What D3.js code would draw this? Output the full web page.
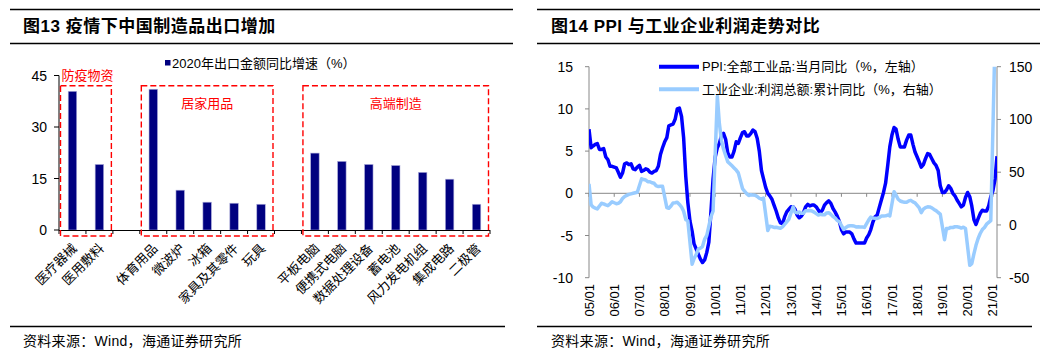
<!DOCTYPE html>
<html><head><meta charset="utf-8">
<script src="https://cdn.jsdelivr.net/npm/d3@7"></script>
<style>
body{margin:0;background:#fff}
svg{display:block}
text{font-family:"Liberation Sans","Noto Sans CJK SC",sans-serif}
</style>
</head><body>
<svg id="c" width="1060" height="354"></svg>
<script>
// ---------- Left chart data ----------
const barTitle = "图13 疫情下中国制造品出口增加";
const barLegend = "2020年出口金额同比增速（%）";
const barCategories = ["医疗器械","医用敷料","","体育用品","微波炉","冰箱","家具及其零件","玩具","","平板电脑","便携式电脑","数据处理设备","蓄电池","风力发电机组","集成电路","二极管"];
const barValues = [40.4,19.1,null,41.0,11.6,8.1,7.8,7.5,null,22.4,20.0,19.1,18.8,16.8,14.8,7.5];
const barTicks = [0,15,30,45];
const groupNames = ["防疫物资","居家用品","高端制造"];
const groupFirst = ["医疗器械","体育用品","平板电脑"];
const groupLast = ["医用敷料","玩具","二极管"];

// ---------- Right chart data ----------
const lineTitle = "图14 PPI 与工业企业利润走势对比";
const ppiName = "PPI:全部工业品:当月同比（%，左轴）";
const profitName = "工业企业:利润总额:累计同比（%，右轴）";
const startYear = 2005; // first month: 2005-01
const ppi = [
 7.6,5.4,5.6,5.8,5.9,5.2,5.2,5.3,4.3,4.0,3.2,3.2,
 3.1,3.0,2.5,1.9,2.4,3.5,3.6,3.4,3.5,2.9,2.8,3.1,
 3.3,2.6,2.7,2.9,2.8,2.5,2.4,2.6,2.7,3.2,4.6,5.4,
 6.1,6.6,8.0,8.1,8.2,8.8,10.0,10.1,9.1,6.6,2.0,-1.1,
 -3.3,-4.5,-6.0,-6.6,-7.2,-7.8,-8.2,-7.9,-7.0,-5.8,-2.1,1.7,
 4.3,5.4,5.9,6.8,7.1,6.4,4.8,4.3,4.3,5.0,6.1,5.9,
 6.6,7.2,7.3,6.8,6.8,7.1,7.5,7.3,6.5,5.0,2.7,1.7,
 0.7,0.0,-0.3,-0.7,-1.4,-2.1,-2.9,-3.5,-3.6,-2.8,-2.2,-1.9,
 -1.6,-1.6,-1.9,-2.6,-2.9,-2.7,-2.3,-1.6,-1.3,-1.5,-1.4,-1.4,
 -1.6,-2.0,-2.3,-2.0,-1.4,-1.1,-0.9,-1.2,-1.8,-2.2,-2.7,-3.3,
 -4.3,-4.8,-4.6,-4.6,-4.6,-4.8,-5.4,-5.9,-5.9,-5.9,-5.9,-5.9,
 -5.3,-4.9,-4.3,-3.4,-2.8,-2.6,-1.7,-0.8,0.1,1.2,3.3,5.5,
 6.9,7.8,7.6,6.4,5.5,5.5,5.5,6.3,6.9,6.9,5.8,4.9,
 4.3,3.7,3.1,3.4,4.1,4.7,4.6,4.1,3.6,3.3,2.7,0.9,
 0.1,0.1,0.4,0.9,0.6,0.0,-0.3,-0.8,-1.2,-1.6,-1.4,-0.5,
 0.1,-0.4,-1.5,-3.1,-3.7,-3.0,-2.4,-2.0,-2.1,-2.1,-1.5,-0.4,
 0.3,1.7,4.4
];
const profit = [
 39,19,17,16,15.2,18,20.5,20,19,18.3,20,22,
 null,20.1,20.5,22,25,27,28,29,29.5,30,30.5,31,
 null,43.8,43,42.6,41,41,40,39.5,37,36.5,36.7,36.7,
 null,16.5,15.8,18,20.9,21,21.5,19.4,17,13,5,4,
 null,-37.3,-32,-28,-22.9,-22,-20.5,-13.5,-10,-1,7.8,13,
 null,122,97,80,72,66,60,58,56,54,52,49.4,
 null,34.3,32,29.7,27.9,28.7,28.3,28.2,27.0,25.3,24.4,25.4,
 null,-5.2,-1.3,-1.6,-2.4,-2.2,-2.7,-3.1,-1.8,0.5,3.0,5.3,
 null,17.2,12.1,11.4,12.3,11.1,11.1,13.5,13.5,13.7,13.2,12.2,
 null,9.4,10.1,9.6,9.6,11.4,11.6,10.0,7.9,6.7,4.2,3.3,
 null,-4.2,-2.7,-1.3,-0.8,-0.7,-1.0,-1.9,-1.7,-2.0,-1.9,-2.3,
 null,4.8,7.4,6.5,6.4,6.2,6.9,8.4,8.4,8.6,9.4,8.5,
 null,31.5,28.3,24.4,22.7,22.0,21.6,21.6,22.8,23.3,21.9,21.0,
 null,16.1,11.6,15.0,16.5,17.2,17.1,16.2,14.7,13.6,11.8,10.3,
 null,-14.0,-3.3,-3.4,-2.3,-2.4,-1.7,-1.7,-2.1,-2.9,-2.1,-3.3,
 null,-38.3,-36.7,-27.4,-19.3,-12.8,-8.1,-4.4,-2.4,0.7,2.4,4.1,
 null,178.9
];
const yearLabels = ["05/01","06/01","07/01","08/01","09/01","10/01","11/01","12/01","13/01","14/01","15/01","16/01","17/01","18/01","19/01","20/01","21/01"];
const leftTicks = [15,10,5,0,-5,-10];
const rightTicks = [150,100,50,0,-50];
const source = "资料来源：Wind，海通证券研究所";

const svg = d3.select("#c");
svg.append("rect").attr("width",1060).attr("height",354).attr("fill","#fff");

// ---------- frames (rules, titles, sources) ----------
[[10,513,barTitle,23],[537,1040,lineTitle,551]].forEach(([x0,x1,t,tx])=>{
  svg.append("line").attr("x1",x0).attr("x2",x1).attr("y1",9.5).attr("y2",9.5).attr("stroke","#000").attr("stroke-width",1.6);
  svg.append("line").attr("x1",x0).attr("x2",x1).attr("y1",43.5).attr("y2",43.5).attr("stroke","#000").attr("stroke-width",1.6);
  svg.append("line").attr("x1",x0).attr("x2",x1-8).attr("y1",326.5).attr("y2",326.5).attr("stroke","#000").attr("stroke-width",1.6);
  svg.append("text").attr("x",tx).attr("y",32).attr("font-size",17).attr("font-weight","bold").attr("letter-spacing",0.5).attr("fill","#000").text(t);
  svg.append("text").attr("x",tx).attr("y",346).attr("font-size",14).attr("letter-spacing",0.3).attr("fill","#000").text(source);
});

// ---------- Left bar chart ----------
const bx = d3.scaleBand().domain(d3.range(barCategories.length)).range([59,490]);
const by = d3.scaleLinear().domain([0,45]).range([230,75.5]);
const L = svg.append("g");

// legend
L.append("rect").attr("x",165).attr("y",60).attr("width",5.5).attr("height",5.5).attr("fill","#000080");
L.append("text").attr("x",172).attr("y",67.5).attr("font-size",13).attr("fill","#000").text(barLegend);

// y axis
L.append("line").attr("x1",59).attr("x2",59).attr("y1",by(45)).attr("y2",by(0)).attr("stroke","#000");
barTicks.forEach(v=>{
  L.append("line").attr("x1",54).attr("x2",59).attr("y1",by(v)).attr("y2",by(v)).attr("stroke","#000");
  L.append("text").attr("x",47).attr("y",by(v)).attr("dy","0.36em").attr("text-anchor","end").attr("font-size",14).attr("fill","#000").text(v);
});
// bars
const bw = 8.5;
barValues.forEach((v,i)=>{
  if(v==null) return;
  L.append("rect").attr("x",bx(i)+bx.bandwidth()/2-bw/2).attr("y",by(v)).attr("width",bw).attr("height",by(0)-by(v))
   .attr("fill","#000080").attr("stroke","#b0b0dc").attr("stroke-width",0.6);
});
// x axis
L.append("line").attr("x1",59).attr("x2",490).attr("y1",by(0)+0.5).attr("y2",by(0)+0.5).attr("stroke","#000");
d3.range(barCategories.length+1).forEach(k=>{
  const x = 59 + k*bx.step();
  L.append("line").attr("x1",x).attr("x2",x).attr("y1",by(0)).attr("y2",by(0)+4).attr("stroke","#000");
});
barCategories.forEach((c,i)=>{
  if(!c) return;
  const cx = bx(i)+bx.bandwidth()/2;
  L.append("text").attr("transform",`translate(${cx+2},246) rotate(-45)`).attr("text-anchor","end").attr("dy","0.35em")
   .attr("font-size",13).attr("fill","#000").text(c);
});
// group boxes
groupNames.forEach((g,k)=>{
  const i0 = barCategories.indexOf(groupFirst[k]), i1 = barCategories.indexOf(groupLast[k]);
  const x0 = bx(i0)+1.5, x1 = bx(i1)+bx.step()-1.5;
  L.append("rect").attr("x",x0).attr("y",by(42)).attr("width",x1-x0).attr("height",by(0)+6-by(42))
   .attr("fill","none").attr("stroke","#ff0000").attr("stroke-width",1.4).attr("stroke-dasharray","6,3");
  const tx = k===0 ? x0+1 : (x0+x1)/2;
  const ty = k===0 ? 75.5 : 103;
  L.append("text").attr("x",tx).attr("y",ty).attr("dy","0.36em").attr("text-anchor",k===0?"start":"middle")
   .attr("font-size",13).attr("fill","#ff0000").text(g);
});

// ---------- Right line chart ----------
const month = i => new Date(startYear, i, 1);
const lx = d3.scaleTime().domain([month(0), month(ppi.length-1)]).range([589,997]);
const ly = d3.scaleLinear().domain([-10,15]).range([277.7,66.7]);
const ry = d3.scaleLinear().domain([-50,150]).range([277.7,66.7]);
const R = svg.append("g");

svg.append("defs").append("clipPath").attr("id","plot").append("rect")
  .attr("x",589).attr("y",ly(15)).attr("width",408).attr("height",ly(-10)-ly(15));

// axes
R.append("line").attr("x1",589).attr("x2",589).attr("y1",ly(15)).attr("y2",ly(-10)).attr("stroke","#888");
leftTicks.forEach(v=>{
  R.append("line").attr("x1",585).attr("x2",589).attr("y1",ly(v)).attr("y2",ly(v)).attr("stroke","#888");
  R.append("text").attr("x",573).attr("y",ly(v)).attr("dy","0.36em").attr("text-anchor","end").attr("font-size",14).attr("fill","#000").text(v);
});
R.append("line").attr("x1",997).attr("x2",997).attr("y1",ry(150)).attr("y2",ry(-50)).attr("stroke","#888");
rightTicks.forEach(v=>{
  R.append("line").attr("x1",997).attr("x2",1001).attr("y1",ry(v)).attr("y2",ry(v)).attr("stroke","#888");
  R.append("text").attr("x",1009).attr("y",ry(v)).attr("dy","0.36em").attr("text-anchor","start").attr("font-size",14).attr("fill","#000").text(v);
});
R.append("line").attr("x1",589).attr("x2",997).attr("y1",ly(0)).attr("y2",ly(0)).attr("stroke","#888");
yearLabels.forEach((lab,k)=>{
  const x = lx(new Date(startYear+k,0,1));
  R.append("line").attr("x1",x).attr("x2",x).attr("y1",ly(0)).attr("y2",ly(0)+3.5).attr("stroke","#888");
  R.append("text").attr("transform",`translate(${x},284) rotate(-90)`).attr("text-anchor","end").attr("dy","0.35em")
   .attr("font-size",13).attr("fill","#000").text(lab);
});

// lines
const ppiPts = ppi.map((v,i)=>[month(i),v]);
const profitPts = profit.map((v,i)=>[month(i),v]).filter(d=>d[1]!=null);
R.append("path").attr("clip-path","url(#plot)")
  .attr("d", d3.line().x(d=>lx(d[0])).y(d=>ly(d[1]))(ppiPts))
  .attr("fill","none").attr("stroke","#0000ff").attr("stroke-width",3.5).attr("stroke-linejoin","round");
R.append("path").attr("clip-path","url(#plot)")
  .attr("d", d3.line().x(d=>lx(d[0])).y(d=>ry(d[1]))(profitPts))
  .attr("fill","none").attr("stroke","#99ccff").attr("stroke-width",3.5).attr("stroke-linejoin","round");

// legend
[[ppiName,"#0000ff",66.7],[profitName,"#99ccff",89.3]].forEach(([n,c,y])=>{
  R.append("line").attr("x1",659).attr("x2",699).attr("y1",y).attr("y2",y).attr("stroke",c).attr("stroke-width",4);
  R.append("text").attr("x",702).attr("y",y).attr("dy","0.36em").attr("font-size",13).attr("fill","#000").text(n);
});
</script>
</body></html>
